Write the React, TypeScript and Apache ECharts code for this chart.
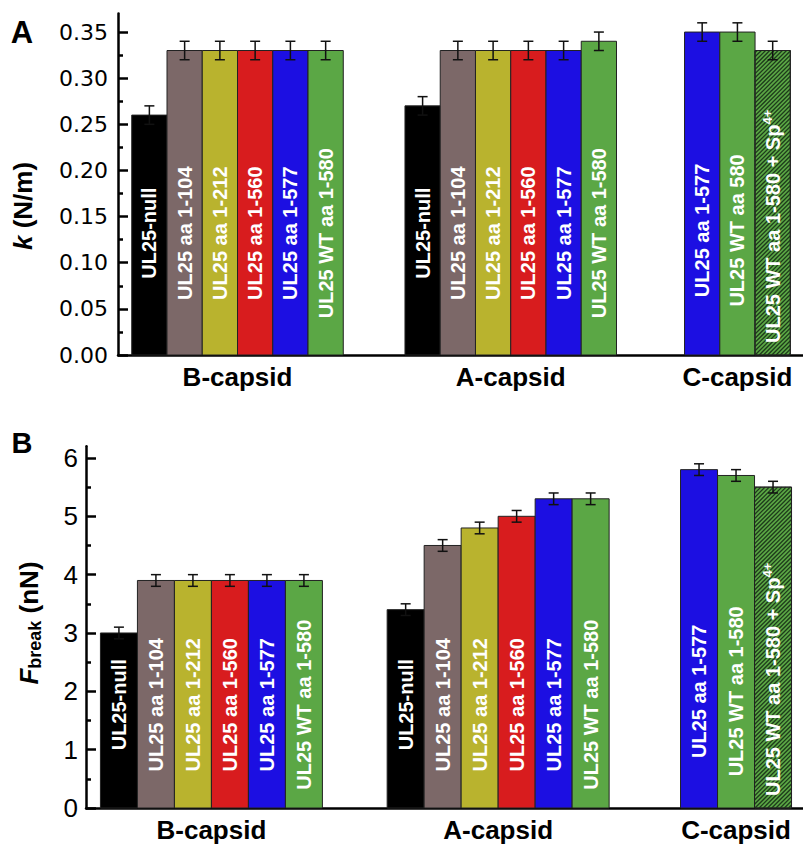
import React, { useEffect, useRef } from 'react';
import * as echarts from 'echarts';

// ---------- data ----------
const groupNames = ['B-capsid', 'A-capsid', 'C-capsid'];

const labelsBA = ['UL25-null', 'UL25 aa 1-104', 'UL25 aa 1-212', 'UL25 aa 1-560', 'UL25 aa 1-577', 'UL25 WT aa 1-580'];
const kLabels = [labelsBA, labelsBA, ['UL25 aa 1-577', 'UL25 WT aa 580', 'UL25 WT aa 1-580 + Sp4+']];
const fLabels = [labelsBA, labelsBA, ['UL25 aa 1-577', 'UL25 WT aa 1-580', 'UL25 WT aa 1-580 + Sp4+']];

const kValues = [
  [0.26, 0.33, 0.33, 0.33, 0.33, 0.33],
  [0.27, 0.33, 0.33, 0.33, 0.33, 0.34],
  [0.35, 0.35, 0.33],
];
const kErrors = [
  [0.01, 0.01, 0.01, 0.01, 0.01, 0.01],
  [0.01, 0.01, 0.01, 0.01, 0.01, 0.01],
  [0.01, 0.01, 0.01],
];
const fValues = [
  [3.0, 3.9, 3.9, 3.9, 3.9, 3.9],
  [3.4, 4.5, 4.8, 5.0, 5.3, 5.3],
  [5.8, 5.7, 5.5],
];
const fErrors = [
  [0.1, 0.1, 0.1, 0.1, 0.1, 0.1],
  [0.1, 0.1, 0.1, 0.1, 0.1, 0.1],
  [0.1, 0.1, 0.1],
];

const kTicks = [0, 0.05, 0.1, 0.15, 0.2, 0.25, 0.3, 0.35];
const kMinorTicks = [0.025, 0.075, 0.125, 0.175, 0.225, 0.275, 0.325];
const fTicks = [0, 1, 2, 3, 4, 5, 6];
const fMinorTicks = [0.5, 1.5, 2.5, 3.5, 4.5, 5.5];

// ---------- styles / layout ----------
const C_BLACK = '#000000';
const C_BROWN = '#7c6868';
const C_OLIVE = '#b9b32e';
const C_RED = '#d81c1e';
const C_BLUE = '#1c0fe2';
const C_GREEN = '#5ba745';
const barColors = [
  [C_BLACK, C_BROWN, C_OLIVE, C_RED, C_BLUE, C_GREEN],
  [C_BLACK, C_BROWN, C_OLIVE, C_RED, C_BLUE, C_GREEN],
  [C_BLUE, C_GREEN, C_GREEN],
];
const hatchedBars = [
  [false, false, false, false, false, false],
  [false, false, false, false, false, false],
  [false, false, true],
];
const GROUP_START = [0.39, 8.14, 16.07];
const FONT = '"Liberation Sans", Arial, sans-serif';
const LABEL_FONT = 'bold 20px ' + FONT;
const SUP_FONT = 'bold 13px ' + FONT;

let measureCtx: any = null;
function textWidth(s: string, font: string) {
  if (!measureCtx) measureCtx = document.createElement('canvas').getContext('2d');
  measureCtx.font = font;
  return measureCtx.measureText(s).width;
}

function buildData(values: number[][], errors: number[][]) {
  const out: number[][] = [];
  values.forEach((arr, g) =>
    arr.forEach((v, b) => out.push([GROUP_START[g] + 0.5 + b, v, errors[g][b], g, b]))
  );
  return out;
}

function groupCenters(values: number[][]) {
  return values.map((arr, g) => GROUP_START[g] + arr.length / 2);
}

function makeRender(labels: string[][], labelCenters: number[]) {
  return (params: any, api: any) => {
    const x = api.value(0);
    const v = api.value(1);
    const e = api.value(2);
    const g = api.value(3);
    const b = api.value(4);
    const p0 = api.coord([x - 0.5, 0]);
    const p1 = api.coord([x + 0.5, v]);
    const x0 = p0[0];
    const x1 = p1[0];
    const y0 = p1[1];
    const y1 = p0[1];
    const children: any[] = [];
    children.push({
      type: 'rect',
      shape: { x: x0, y: y0, width: x1 - x0, height: y1 - y0 },
      style: { fill: barColors[g][b], stroke: '#222', lineWidth: 1 },
    });
    if (hatchedBars[g][b]) {
      const step = 4.2;
      for (let c = x0 + y0 + step / 2; c < x1 + y1; c += step) {
        const xa = Math.max(x0, c - y1);
        const xb = Math.min(x1, c - y0);
        if (xb > xa) {
          children.push({
            type: 'line',
            shape: { x1: xa, y1: c - xa, x2: xb, y2: c - xb },
            style: { stroke: '#1e3b1b', lineWidth: 1.3 },
          });
        }
      }
      children.push({
        type: 'rect',
        shape: { x: x0, y: y0, width: x1 - x0, height: y1 - y0 },
        style: { fill: 'none', stroke: '#222', lineWidth: 1 },
      });
    }
    // error bar
    const cx = (x0 + x1) / 2;
    const ya = api.coord([x, v + e])[1];
    const yb = api.coord([x, v - e])[1];
    const es = { stroke: '#111', lineWidth: 1.5 };
    children.push({ type: 'line', shape: { x1: cx, y1: ya, x2: cx, y2: yb }, style: es });
    children.push({ type: 'line', shape: { x1: cx - 5, y1: ya, x2: cx + 5, y2: ya }, style: es });
    children.push({ type: 'line', shape: { x1: cx - 5, y1: yb, x2: cx + 5, y2: yb }, style: es });
    // label
    const raw = labels[g][b];
    let text = raw;
    let w = textWidth(raw, LABEL_FONT);
    if (raw.endsWith('4+')) {
      const base = raw.slice(0, -2);
      text = base + '{sup|4+}';
      w = textWidth(base, LABEL_FONT) + textWidth('4+', SUP_FONT);
    }
    let cy = api.coord([x, labelCenters[g]])[1];
    cy = Math.min(cy, y1 - 12 - w / 2);
    children.push({
      type: 'text',
      x: cx,
      y: cy,
      rotation: Math.PI / 2,
      style: {
        text,
        fill: '#ffffff',
        font: LABEL_FONT,
        align: 'center',
        verticalAlign: 'middle',
        lineHeight: 24,
        rich: {
          sup: { fill: '#ffffff', font: SUP_FONT, lineHeight: 12, verticalAlign: 'top' },
        },
      },
    });
    return { type: 'group', children };
  };
}

export default function App() {
  const ref = useRef<HTMLDivElement>(null);
  useEffect(() => {
    if (!ref.current) return;
    const chart = echarts.init(ref.current, undefined, { renderer: 'svg' });
    const kCenters = groupCenters(kValues);
    const fCenters = groupCenters(fValues);
    const nameFor = (centers: number[]) => (val: number) => {
      let best = 0;
      centers.forEach((c, i) => {
        if (Math.abs(c - val) < Math.abs(centers[best] - val)) best = i;
      });
      return groupNames[best];
    };
    const xAxisCommon = {
      type: 'value',
      min: 0,
      splitLine: { show: false },
      axisTick: { show: false },
      axisLine: { show: true, onZero: false, lineStyle: { color: '#000', width: 2.5 } },
    };
    const yMajorCommon = {
      type: 'value',
      position: 'left',
      splitLine: { show: false },
      axisLine: { show: true, onZero: false, lineStyle: { color: '#000', width: 2.5 } },
      axisTick: { show: true, inside: true, length: 10, lineStyle: { color: '#000', width: 2.5 } },
    };
    const yMinorCommon = {
      type: 'value',
      position: 'left',
      splitLine: { show: false },
      axisLine: { show: false },
      axisLabel: { show: false },
      axisTick: { show: true, inside: true, length: 5, lineStyle: { color: '#000', width: 2.5 } },
    };
    chart.setOption({
      animation: false,
      backgroundColor: '#ffffff',
      textStyle: { fontFamily: FONT },
      grid: [
        { left: 118, top: 13.6, width: 685, height: 341.4, containLabel: false },
        { left: 86, top: 446.3, width: 717, height: 361.7, containLabel: false },
      ],
      xAxis: [
        {
          ...xAxisCommon,
          gridIndex: 0,
          max: 19.43,
          axisLabel: {
            show: true,
            customValues: kCenters,
            formatter: nameFor(kCenters),
            fontSize: 26,
            fontWeight: 'bold',
            color: '#000',
            margin: 9,
          },
        },
        {
          ...xAxisCommon,
          gridIndex: 1,
          max: 19.38,
          axisLabel: {
            show: true,
            customValues: fCenters,
            formatter: nameFor(fCenters),
            fontSize: 26,
            fontWeight: 'bold',
            color: '#000',
            margin: 9,
          },
        },
      ],
      yAxis: [
        {
          ...yMajorCommon,
          gridIndex: 0,
          min: 0,
          max: 0.37,
          axisTick: { ...yMajorCommon.axisTick, customValues: kTicks },
          axisLabel: {
            customValues: kTicks,
            formatter: (v: number) => v.toFixed(2),
            fontFamily: '"DejaVu Sans", sans-serif',
            fontSize: 22,
            color: '#000',
            margin: 10,
          },
        },
        {
          ...yMinorCommon,
          gridIndex: 0,
          min: 0,
          max: 0.37,
          axisTick: { ...yMinorCommon.axisTick, customValues: kMinorTicks },
        },
        {
          ...yMajorCommon,
          gridIndex: 1,
          min: 0,
          max: 6.2,
          axisTick: { ...yMajorCommon.axisTick, customValues: fTicks },
          axisLabel: {
            customValues: fTicks,
            formatter: (v: number) => String(v),
            fontSize: 26,
            color: '#000',
            margin: 8,
          },
        },
        {
          ...yMinorCommon,
          gridIndex: 1,
          min: 0,
          max: 6.2,
          axisTick: { ...yMinorCommon.axisTick, customValues: fMinorTicks },
        },
      ],
      series: [
        {
          type: 'custom',
          xAxisIndex: 0,
          yAxisIndex: 0,
          clip: false,
          encode: { x: 0, y: 1 },
          data: buildData(kValues, kErrors),
          renderItem: makeRender(kLabels, [0.132, 0.132, 0.135]),
        },
        {
          type: 'custom',
          xAxisIndex: 1,
          yAxisIndex: 2,
          clip: false,
          encode: { x: 0, y: 1 },
          data: buildData(fValues, fErrors),
          renderItem: makeRender(fLabels, [1.77, 1.77, 2.0]),
        },
      ],
      graphic: [
        {
          type: 'text',
          x: 22,
          y: 32,
          style: { text: 'A', font: 'bold 31px ' + FONT, fill: '#000', align: 'center', verticalAlign: 'middle' },
        },
        {
          type: 'text',
          x: 22,
          y: 443,
          style: { text: 'B', font: 'bold 29px ' + FONT, fill: '#000', align: 'center', verticalAlign: 'middle' },
        },
        {
          type: 'text',
          x: 23,
          y: 206,
          rotation: Math.PI / 2,
          style: {
            text: '{i|k} (N/m)',
            font: 'bold 26px ' + FONT,
            fill: '#000',
            align: 'center',
            verticalAlign: 'middle',
            rich: {
              i: { font: 'italic bold 26px ' + FONT, fill: '#000' },
            },
          },
        },
        {
          type: 'text',
          x: 29,
          y: 623,
          rotation: Math.PI / 2,
          style: {
            text: '{i|F}{sub|break} (nN)',
            font: 'bold 26px ' + FONT,
            fill: '#000',
            align: 'center',
            verticalAlign: 'middle',
            lineHeight: 30,
            rich: {
              i: { font: 'italic bold 26px ' + FONT, fill: '#000', lineHeight: 30 },
              sub: { font: 'bold 18px ' + FONT, fill: '#000', lineHeight: 14, verticalAlign: 'bottom' },
            },
          },
        },
      ],
    });
    return () => chart.dispose();
  }, []);
  return (
    <div
      ref={ref}
      style={{ position: 'absolute', left: 0, top: 0, width: 803, height: 846, background: '#fff' }}
    />
  );
}
